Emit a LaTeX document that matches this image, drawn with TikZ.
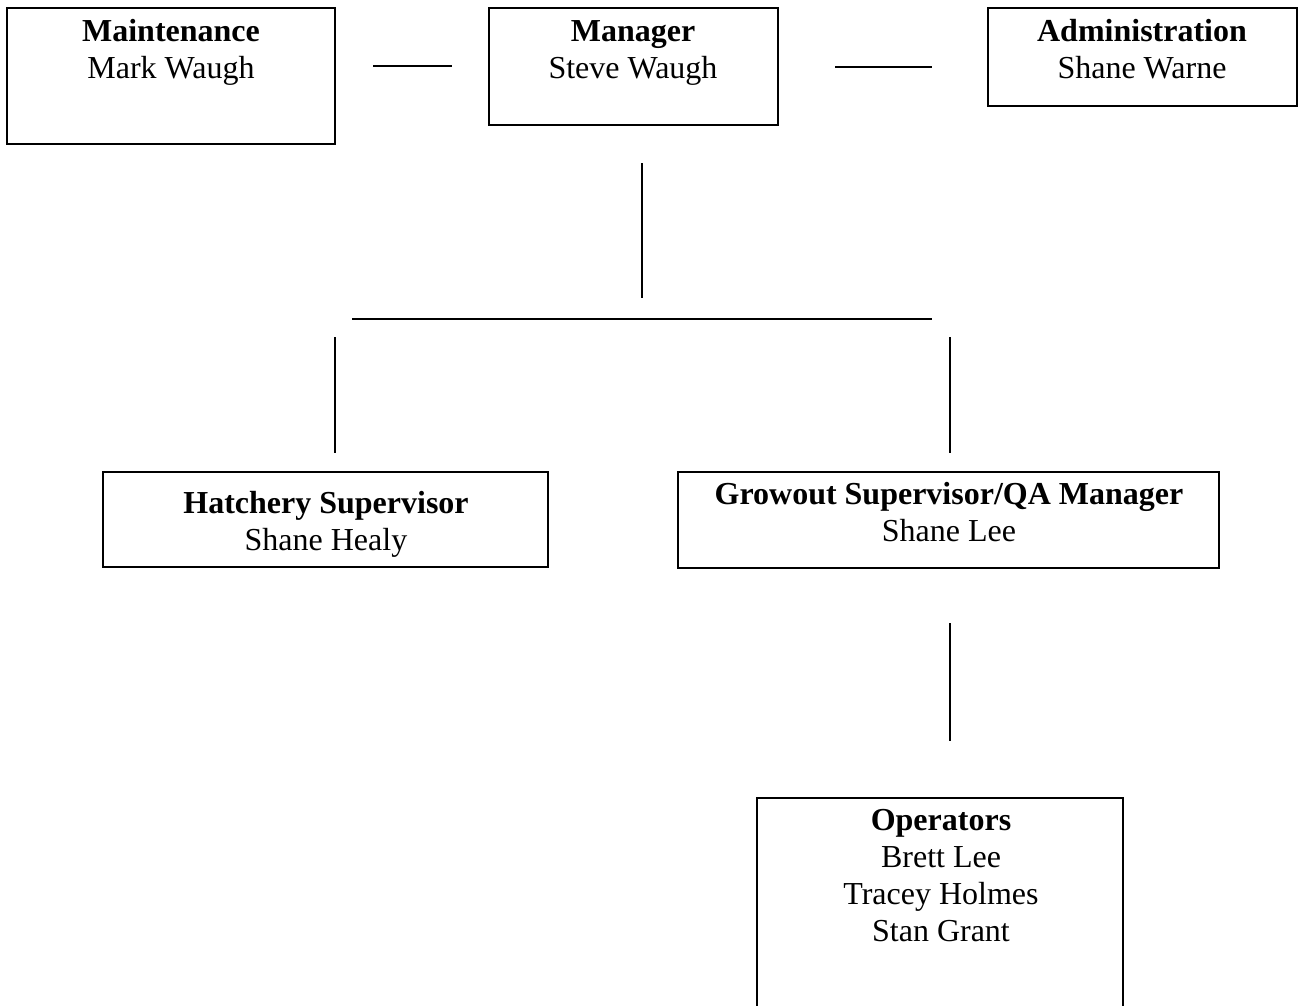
\documentclass[tikz,border=0pt]{standalone}
\usepackage{fontspec}
\setmainfont{Liberation Serif}
\begin{document}
\begin{tikzpicture}[x=1pt,y=-1pt,
  box/.style={draw=black, line width=1.8pt, inner sep=0pt, outer sep=0pt, anchor=north west},
  txt/.style={anchor=north, inner sep=0pt, align=center, font=\fontsize{32}{37}\selectfont},
  conn/.style={line width=1.8pt}]
\useasboundingbox (0,0) rectangle (1300,1005);
\clip (0,0) rectangle (1300,1005);
\fill[white] (0,0) rectangle (1300,1005);
% boxes
\node[box, minimum width=328pt, minimum height=136pt] (maint) at (7,8) {};
\node[box, minimum width=289pt, minimum height=117pt] (mgr) at (489,8) {};
\node[box, minimum width=309pt, minimum height=98pt] (admin) at (988,8) {};
\node[box, minimum width=445pt, minimum height=95pt] (hatch) at (103,472) {};
\node[box, minimum width=541pt, minimum height=96pt] (grow) at (678,472) {};
\node[box, minimum width=366pt, minimum height=260pt] (oper) at (757,798) {};
% texts
\node[txt] (maintT) at (171,16) {\rule{0pt}{25pt}\textbf{Maintenance}\\Mark Waugh};
\node[txt] (mgrT) at (633,16) {\rule{0pt}{25pt}\textbf{Manager}\\Steve Waugh};
\node[txt] (adminT) at (1142,16) {\rule{0pt}{25pt}\textbf{Administration}\\Shane Warne};
\node[txt] (hatchT) at (326,488) {\rule{0pt}{25pt}\textbf{Hatchery Supervisor}\\Shane Healy};
\node[txt] (growT) at (949,479) {\rule{0pt}{25pt}\textbf{Growout Supervisor/QA Manager}\\Shane Lee};
\node[txt] (operT) at (941,805) {\rule{0pt}{25pt}\textbf{Operators}\\Brett Lee\\Tracey Holmes\\Stan Grant};
% connector end points
\coordinate (c1a) at (373,66); \coordinate (c1b) at (452,66);
\coordinate (c2a) at (835,67); \coordinate (c2b) at (932,67);
\coordinate (c3a) at (642,163); \coordinate (c3b) at (642,298);
\coordinate (c4a) at (352,319); \coordinate (c4b) at (932,319);
\coordinate (c5a) at (335,337); \coordinate (c5b) at (335,453);
\coordinate (c6a) at (950,337); \coordinate (c6b) at (950,453);
\coordinate (c7a) at (950,623); \coordinate (c7b) at (950,741);
\draw[conn] (c1a) -- (c1b);
\draw[conn] (c2a) -- (c2b);
\draw[conn] (c3a) -- (c3b);
\draw[conn] (c4a) -- (c4b);
\draw[conn] (c5a) -- (c5b);
\draw[conn] (c6a) -- (c6b);
\draw[conn] (c7a) -- (c7b);
\end{tikzpicture}
\end{document}
